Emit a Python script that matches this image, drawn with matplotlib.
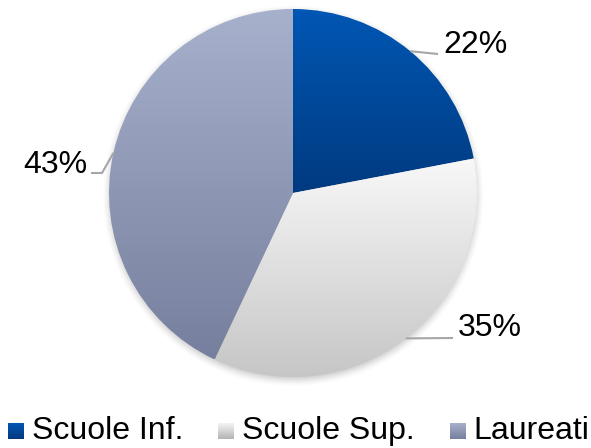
import numpy as np
import matplotlib
matplotlib.use("Agg")
import matplotlib.pyplot as plt
from matplotlib.colors import LinearSegmentedColormap

# ---- data ----
categories = ["Scuole Inf.", "Scuole Sup.", "Laureati"]
values = [22, 35, 43]
labels = ["22%", "35%", "43%"]

# ---- styles ----
grad_top = ["#0057B4", "#F8F8F8", "#A7B1CC"]
grad_bot = ["#003A80", "#C6C6C6", "#76809E"]

plt.rcParams['font.family'] = ['Liberation Sans', 'DejaVu Sans']

W, H = 591, 448
fig = plt.figure(figsize=(W / 100, H / 100), dpi=100)
ax = fig.add_axes([0, 0, 1, 1])

cx, cy, R = 293, 255, 184

# soft shadow
yy, xx = np.mgrid[0:H:0.5, 0:W:0.5]
d = np.hypot(xx - cx, yy - (cy - 3))
sh = np.clip((R + 7 - d) / 10.0, 0, 1) ** 1.5 * 0.35
sh_img = np.zeros(sh.shape + (4,))
sh_img[..., :3] = 0.45
sh_img[..., 3] = sh
ax.imshow(sh_img, extent=(0, W, 0, H), origin='lower', zorder=0, interpolation='bilinear')

wedges, _ = ax.pie(values, startangle=90, counterclock=False, center=(cx, cy),
                   radius=R, frame=True, wedgeprops=dict(linewidth=0))

grad = np.linspace(0, 1, 256).reshape(-1, 1)
for w, ct, cb in zip(wedges, grad_top, grad_bot):
    w.set_facecolor('none')
    ext = w.get_path().get_extents()
    cmap = LinearSegmentedColormap.from_list('g', [cb, ct])
    im = ax.imshow(grad, cmap=cmap, extent=(ext.x0, ext.x1, ext.y0, ext.y1),
                   origin='lower', aspect='auto', zorder=1, interpolation='bilinear')
    im.set_clip_path(w)
    w.set_zorder(2)

# labels with leader lines
total = sum(values)
cum = 0
label_cfg = [
    dict(elbow=(438, 54), text_xy=(443, 45), ha='left'),
    dict(elbow=(453, 338), text_xy=(458, 328), ha='left'),
    dict(elbow=(102, 173), end=(91, 173), text_xy=(87, 165), ha='right'),
]
for v, lab, cfg in zip(values, labels, label_cfg):
    mid = 90 - (cum + v / 2) / total * 360
    cum += v
    px = cx + R * np.cos(np.radians(mid))
    py = cy + R * np.sin(np.radians(mid))
    xs = [px, cfg['elbow'][0]]
    ys = [py, H - cfg['elbow'][1]]
    if 'end' in cfg:
        xs.append(cfg['end'][0])
        ys.append(H - cfg['end'][1])
    ax.plot(xs, ys, color='#A6A6A6', lw=1.5, zorder=3, solid_capstyle='butt')
    ax.text(cfg['text_xy'][0], H - cfg['text_xy'][1], lab, fontsize=23,
            ha=cfg['ha'], va='center', color='black', zorder=4)

# legend (manual, gradient squares)
leg_top = ["#0057B4", "#F4F4F4", "#A7B1CC"]
leg_bot = ["#003A80", "#B4B4B4", "#76809E"]
leg_sq_x = [8, 218, 450]
leg_txt_x = [32, 242, 473]
sq = 16
sq_top = 423
for cat, sx, tx, ct, cb in zip(categories, leg_sq_x, leg_txt_x, leg_top, leg_bot):
    cmap = LinearSegmentedColormap.from_list('g', [cb, ct])
    ax.imshow(grad, cmap=cmap, extent=(sx, sx + sq, H - sq_top - sq, H - sq_top),
              origin='lower', aspect='auto', zorder=5, interpolation='bilinear')
    ax.text(tx, H - 431, cat, fontsize=23, ha='left', va='center', color='black')

ax.set_xlim(0, W)
ax.set_ylim(0, H)
ax.set_aspect('equal')
ax.axis('off')
fig.savefig("out.png", dpi=100, facecolor='white')
